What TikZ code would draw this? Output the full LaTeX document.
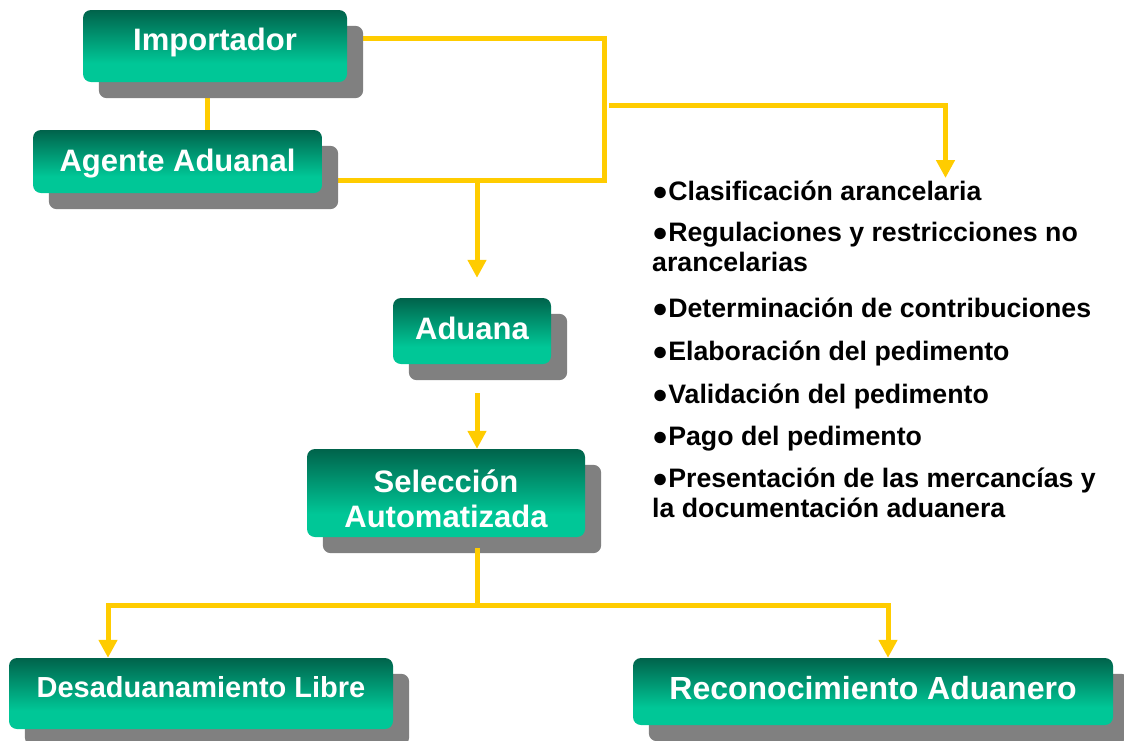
\documentclass[tikz,border=0pt]{standalone}
\usepackage{fontspec}
\setmainfont{Liberation Sans}
\usetikzlibrary{arrows.meta,backgrounds}
\definecolor{boxdark}{RGB}{0,99,75}
\definecolor{boxlight}{RGB}{0,199,151}
\definecolor{shadowgray}{RGB}{128,128,128}
\definecolor{linkyellow}{RGB}{255,204,0}
\pgfdeclareverticalshading{boxshade}{100bp}{color(0bp)=(boxlight); color(25bp)=(boxlight); color(38bp)=(boxlight); color(75bp)=(boxdark); color(100bp)=(boxdark)}
\tikzset{
  box/.style={rounded corners=8pt, shade, shading=boxshade, text=white, align=center, inner sep=0pt},
  boxshadow/.style={fill=shadowgray, rounded corners=8pt},
  conn/.style={draw=linkyellow, line width=5pt},
  arr/.style={conn, -{Triangle[width=18pt,length=18pt]}},
  item/.style={anchor=base west, align=left, inner sep=0pt, font={\bfseries\fontsize{26.7}{29.5}\selectfont}}
}
\begin{document}
\begin{tikzpicture}[x=1pt,y=-1pt]
\useasboundingbox (0,0) rectangle (1124,740);
% boxes
\node[box, minimum width=264pt, minimum height=72pt, font={\bfseries\fontsize{31}{35}\selectfont}, text height=22.2pt, text depth=14pt] (imp) at (215,46) {Importador};
\node[box, minimum width=289pt, minimum height=63pt, font={\bfseries\fontsize{31}{35}\selectfont}, text height=22.2pt, text depth=3pt] (age) at (177.5,161.5) {Agente Aduanal};
\node[box, minimum width=158pt, minimum height=66pt, font={\bfseries\fontsize{31}{35}\selectfont}, text height=22.2pt, text depth=5pt] (adu) at (472,331) {Aduana};
\node[box, minimum width=278pt, minimum height=88pt, font={\bfseries\fontsize{31}{35}\selectfont}] (sel) at (446,493) {\rule{0pt}{35pt}Selección\\Automatizada};
\node[box, minimum width=384pt, minimum height=71pt, font={\bfseries\fontsize{29}{33}\selectfont}, text height=20.8pt, text depth=12pt] (des) at (201,693.5) {Desaduanamiento Libre};
\node[box, minimum width=480pt, minimum height=67pt, font={\bfseries\fontsize{32}{36}\selectfont}, text height=22.9pt, text depth=6pt] (rec) at (873,691.5) {Reconocimiento Aduanero};
% bullet list (multi-line items are placed by the baseline of their last line)
\node[item] (b1) at (652,200) {●Clasificación arancelaria};
\node[item] (b2) at (652,271) {●Regulaciones y restricciones no\\arancelarias};
\node[item] (b3) at (652,317) {●Determinación de contribuciones};
\node[item] (b4) at (652,360) {●Elaboración del pedimento};
\node[item] (b5) at (652,403) {●Validación del pedimento};
\node[item] (b6) at (652,445) {●Pago del pedimento};
\node[item] (b7) at (652,517) {●Presentación de las mercancías y\\la documentación aduanera};
% junction coordinates
\coordinate (jr) at (604.5,180);
\coordinate (jd) at (477,180);
\coordinate (jb) at (609,105);
\coordinate (lt) at (945.5,178);
\coordinate (jm) at (477,605);
\begin{pgfonlayer}{background}
  \draw[conn] ([xshift=-8pt]imp.south) -- ([xshift=29.5pt]age.north);
  \draw[conn] ([yshift=8pt]imp.east) -| (jr) -- ([yshift=-18.5pt]age.east);
  \draw[arr, shorten >=20pt] (jd) -- ([xshift=5pt]adu.north);
  \draw[arr] (jb) -| (lt);
  \fill[boxshadow] ([shift={(16pt,-16pt)}]imp.south west) rectangle ([shift={(16pt,-16pt)}]imp.north east);
  \fill[boxshadow] ([shift={(16pt,-16pt)}]age.south west) rectangle ([shift={(16pt,-16pt)}]age.north east);
  \fill[boxshadow] ([shift={(16pt,-16pt)}]adu.south west) rectangle ([shift={(16pt,-16pt)}]adu.north east);
  \fill[boxshadow] ([shift={(16pt,-16pt)}]sel.south west) rectangle ([shift={(16pt,-16pt)}]sel.north east);
  \fill[boxshadow] ([shift={(16pt,-16pt)}]des.south west) rectangle ([shift={(16pt,-16pt)}]des.north east);
  \fill[boxshadow] ([shift={(16pt,-16pt)}]rec.south west) rectangle ([shift={(16pt,-16pt)}]rec.north east);
\end{pgfonlayer}
\draw[arr, shorten <=29pt] ([xshift=5pt]adu.south) -- ([xshift=31pt]sel.north);
\draw[conn] ([xshift=31pt,yshift=-11pt]sel.south) -- (jm);
\draw[arr] (jm) -| ([xshift=-93pt]des.north);
\draw[arr] (jm) -| ([xshift=15pt]rec.north);
\end{tikzpicture}
\end{document}
